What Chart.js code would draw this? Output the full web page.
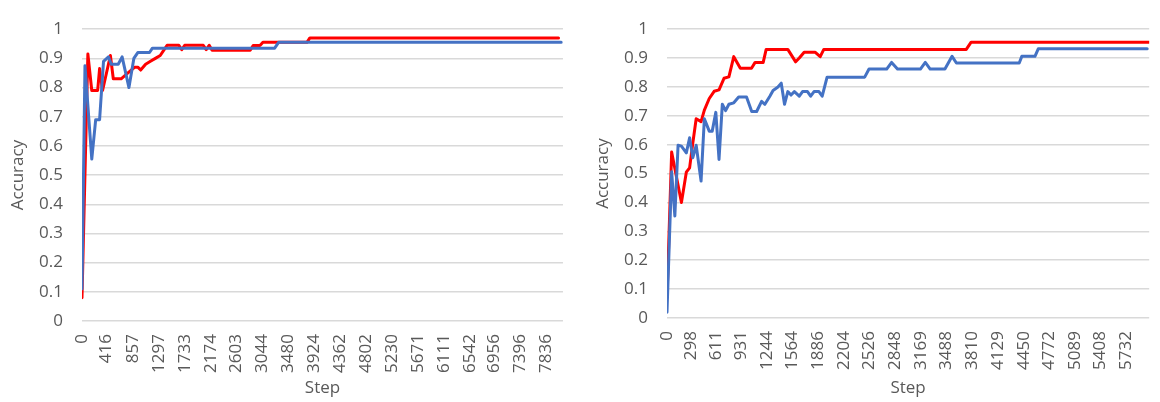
<!DOCTYPE html>
<html>
<head>
<meta charset="utf-8">
<script src="https://cdn.jsdelivr.net/npm/chart.js@4.4.1/dist/chart.umd.min.js"></script>
<style>
  html, body { margin: 0; padding: 0; background: #fff; }
  .panel { position: absolute; top: 0; width: 580px; height: 402px; }
</style>
</head>
<body>
<div class="panel" style="left:0"><canvas id="accLeft" width="580" height="402"></canvas></div>
<div class="panel" style="left:580px"><canvas id="accRight" width="580" height="402"></canvas></div>
<script>
// y axis ticks shared by both panels
const accTicks = [0, 0.1, 0.2, 0.3, 0.4, 0.5, 0.6, 0.7, 0.8, 0.9, 1];

// left panel
const leftTickSteps = [0, 416, 857, 1297, 1733, 2174, 2603, 3044, 3480, 3924, 4362, 4802, 5230, 5671, 6111, 6542, 6956, 7396, 7836];
const leftRedSteps = [0, 99, 165, 264, 297, 347, 479, 528, 660, 776, 891, 941, 990, 1073, 1155, 1238, 1320, 1386, 1436, 1634, 1683, 1733, 2046, 2096, 2146, 2195, 2838, 2888, 3003, 3053, 3795, 3845, 8040];
const leftRedAcc = [0.08, 0.915, 0.79, 0.79, 0.865, 0.79, 0.91, 0.83, 0.83, 0.85, 0.87, 0.87, 0.86, 0.88, 0.89, 0.9, 0.91, 0.93, 0.945, 0.945, 0.93, 0.945, 0.945, 0.93, 0.945, 0.928, 0.928, 0.944, 0.944, 0.955, 0.955, 0.97, 0.97];
const leftBlueSteps = [0, 50, 165, 231, 297, 363, 446, 495, 611, 677, 792, 875, 941, 1139, 1188, 3251, 3317, 8085];
const leftBlueAcc = [0.11, 0.875, 0.555, 0.69, 0.69, 0.89, 0.905, 0.88, 0.88, 0.905, 0.8, 0.9, 0.92, 0.92, 0.935, 0.935, 0.955, 0.955];

// right panel
const rightTickSteps = [0, 298, 611, 931, 1244, 1564, 1886, 2204, 2526, 2848, 3169, 3488, 3810, 4129, 4450, 4772, 5089, 5408, 5732];
const rightRedSteps = [0, 58, 180, 241, 282, 319, 364, 425, 466, 527, 588, 649, 711, 772, 833, 915, 1054, 1099, 1200, 1237, 1507, 1605, 1650, 1711, 1850, 1911, 1956, 3733, 3794, 6015];
const rightRedAcc = [0.07, 0.575, 0.4, 0.505, 0.52, 0.6, 0.69, 0.68, 0.72, 0.76, 0.785, 0.79, 0.83, 0.835, 0.905, 0.865, 0.865, 0.885, 0.885, 0.93, 0.93, 0.887, 0.9, 0.92, 0.92, 0.905, 0.93, 0.93, 0.955, 0.955];
const rightBlueSteps = [0, 58, 98, 138, 180, 241, 282, 322, 364, 425, 466, 527, 564, 609, 649, 690, 731, 772, 833, 894, 992, 1057, 1118, 1180, 1221, 1283, 1323, 1384, 1425, 1466, 1507, 1547, 1589, 1650, 1691, 1752, 1792, 1834, 1895, 1936, 1997, 2466, 2520, 2740, 2802, 2875, 3161, 3222, 3283, 3467, 3556, 3610, 4394, 4426, 4590, 4631, 5990];
const rightBlueAcc = [0.02, 0.506, 0.353, 0.598, 0.595, 0.572, 0.624, 0.555, 0.598, 0.474, 0.69, 0.647, 0.647, 0.712, 0.549, 0.74, 0.718, 0.74, 0.745, 0.765, 0.765, 0.715, 0.715, 0.75, 0.74, 0.768, 0.788, 0.8, 0.813, 0.74, 0.784, 0.772, 0.784, 0.768, 0.784, 0.784, 0.768, 0.784, 0.784, 0.768, 0.834, 0.834, 0.862, 0.862, 0.885, 0.862, 0.862, 0.885, 0.862, 0.862, 0.906, 0.883, 0.883, 0.906, 0.906, 0.932, 0.932];

const textColor = '#595959';
const tickFont = { family: 'Open Sans', size: 17 };
const titleFont = { family: 'Open Sans', size: 17 };

function toPoints(steps, acc) {
    return steps.map((s, i) => ({ x: s, y: acc[i] }));
}

function lineSet(steps, acc, color) {
    return {
        data: toPoints(steps, acc),
        borderColor: color,
        borderWidth: 3,
        borderJoinStyle: 'round',
        borderCapStyle: 'round',
        pointRadius: 0,
        tension: 0,
        fill: false
    };
}

function accuracyChart(id, o) {
    const ctx = document.getElementById(id).getContext('2d');
    new Chart(ctx, {
        type: 'line',
        data: {
            // blue first so it is drawn over the red line
            datasets: [
                lineSet(o.blueSteps, o.blueAcc, '#4472c4'),
                lineSet(o.redSteps, o.redAcc, '#ff0000')
            ]
        },
        options: {
            responsive: false,
            animation: false,
            layout: { padding: { top: 12, right: o.padRight, left: 0, bottom: 0 } },
            plugins: {
                legend: { display: false },
                tooltip: { enabled: false }
            },
            scales: {
                x: {
                    type: 'linear',
                    min: 0,
                    max: o.maxStep,
                    afterBuildTicks: s => { s.ticks = o.tickSteps.map(v => ({ value: v })); },
                    afterFit: s => { s.height = o.xAxisHeight; },
                    grid: { display: false, drawTicks: false },
                    border: { display: false },
                    ticks: {
                        autoSkip: false,
                        minRotation: 90,
                        maxRotation: 90,
                        padding: 13,
                        color: textColor,
                        font: tickFont,
                        callback: v => String(v)
                    },
                    title: {
                        display: true,
                        text: 'Step',
                        color: textColor,
                        font: titleFont,
                        padding: { top: 0, bottom: 4 }
                    }
                },
                y: {
                    min: 0,
                    max: 1,
                    afterBuildTicks: s => { s.ticks = accTicks.map(v => ({ value: v })); },
                    afterFit: s => { s.width = o.yAxisWidth; },
                    grid: { color: '#d9d9d9', lineWidth: 1.5, drawTicks: false },
                    border: { display: false },
                    ticks: {
                        padding: 19,
                        color: textColor,
                        font: tickFont,
                        callback: v => String(Math.round(v * 10) / 10)
                    },
                    title: {
                        display: true,
                        text: 'Accuracy',
                        color: textColor,
                        font: titleFont,
                        padding: { top: o.titlePad, bottom: 0 }
                    }
                }
            }
        }
    });
}

accuracyChart('accLeft', {
    tickSteps: leftTickSteps,
    redSteps: leftRedSteps, redAcc: leftRedAcc,
    blueSteps: leftBlueSteps, blueAcc: leftBlueAcc,
    maxStep: 8115,
    yAxisWidth: 82,
    xAxisHeight: 81,
    padRight: 5,
    titlePad: 8
});

accuracyChart('accRight', {
    tickSteps: rightTickSteps,
    redSteps: rightRedSteps, redAcc: rightRedAcc,
    blueSteps: rightBlueSteps, blueAcc: rightBlueAcc,
    maxStep: 6015,
    yAxisWidth: 87,
    xAxisHeight: 84,
    padRight: 2,
    titlePad: 13
});
</script>
</body>
</html>
